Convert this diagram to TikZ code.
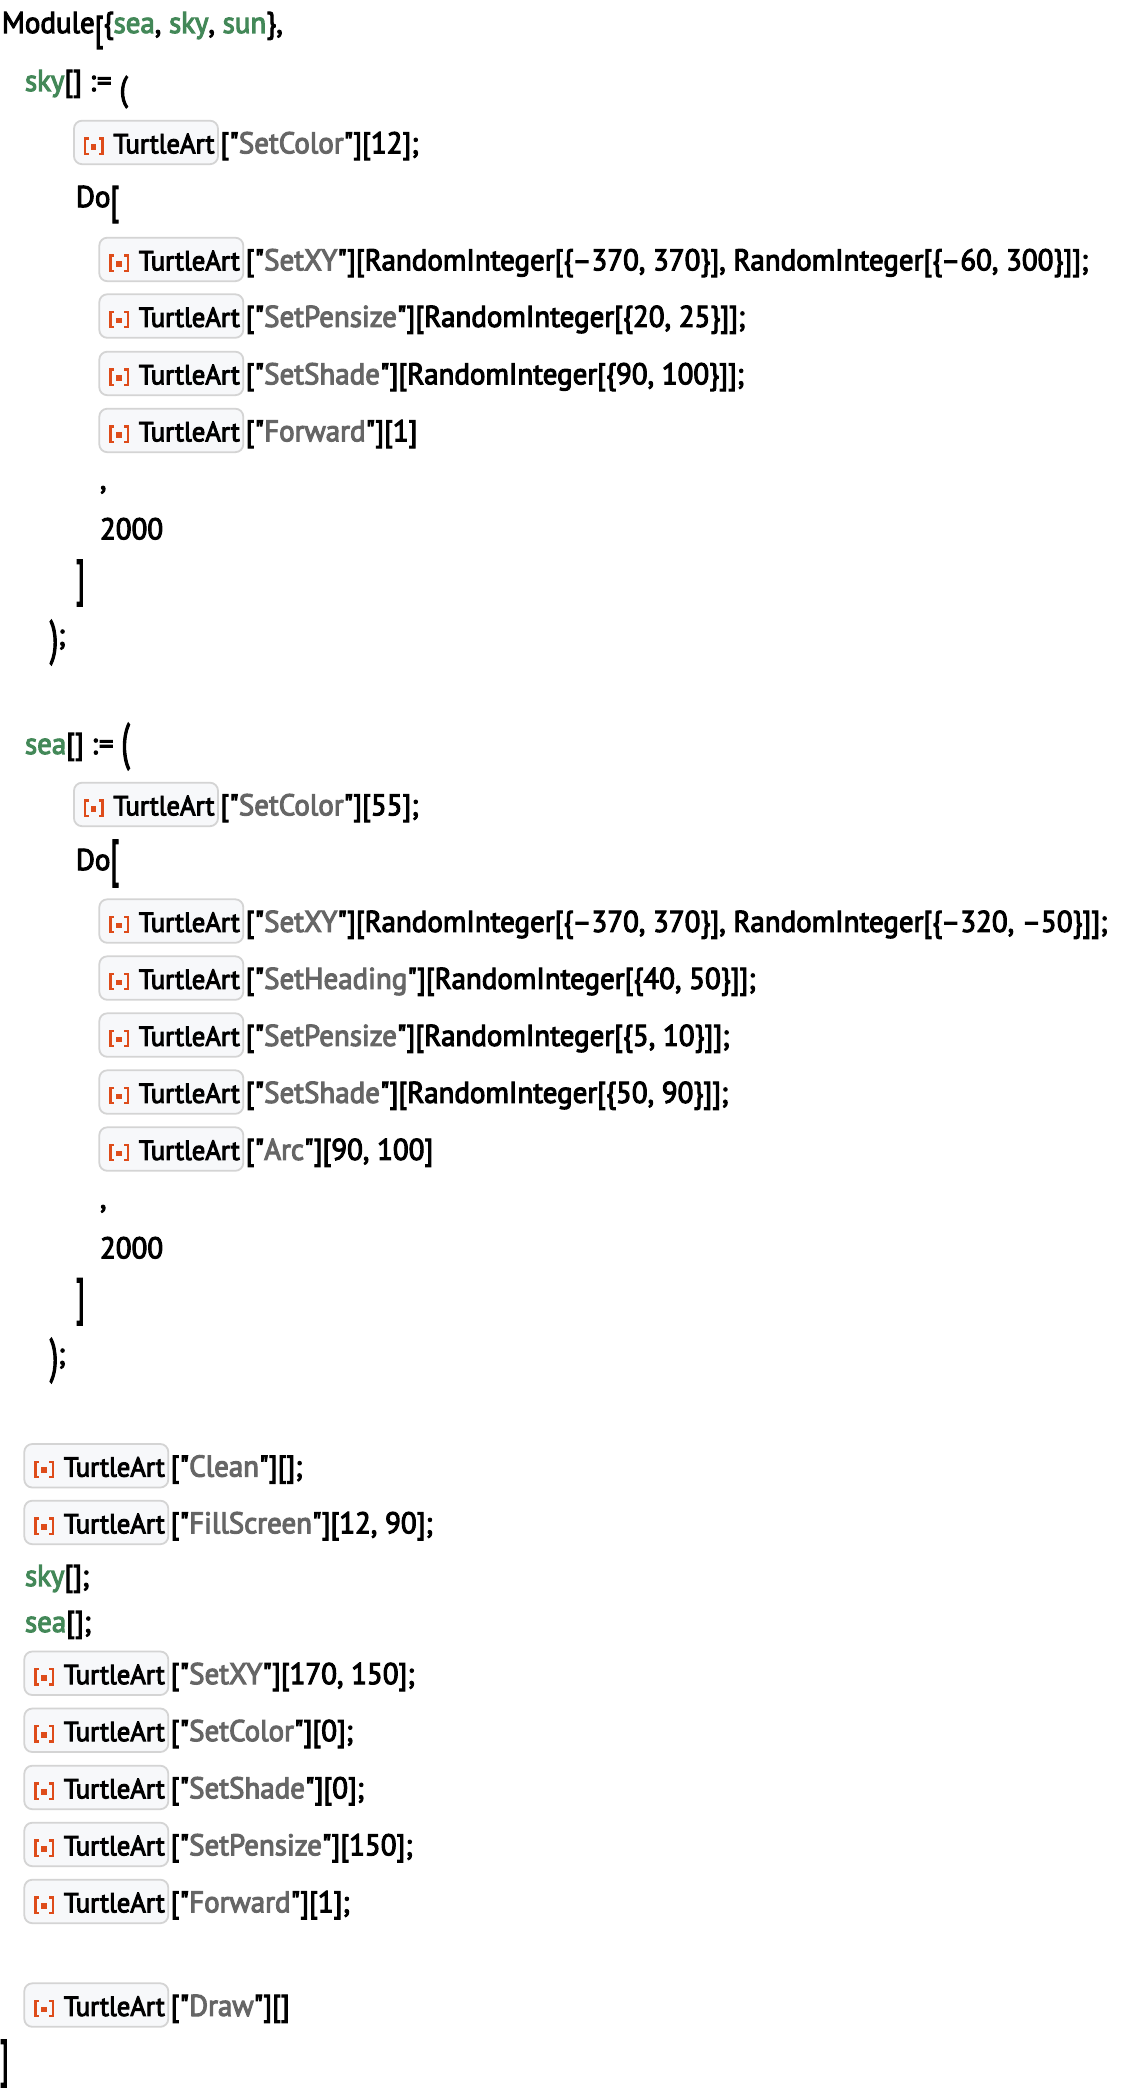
\documentclass[tikz,border=0pt]{standalone}
\usepackage{fontspec}
\usepackage{graphicx}
\newfontface\codefont{PT Sans}[FakeBold=3.5, FakeStretch=0.965]
\definecolor{vgreen}{HTML}{438858}
\definecolor{sgray}{HTML}{666666}
\definecolor{boxfill}{HTML}{F7F8FA}
\definecolor{boxline}{HTML}{D4D4D4}
\definecolor{iorange}{HTML}{DE4C1A}
\newcommand\cf{\codefont\fontsize{30}{30}\selectfont}
\newcommand\lf{\codefont\fontsize{27.6}{27.6}\selectfont}
\newcommand\V[1]{{\color{vgreen}#1}}
\newcommand\Str[1]{"{\color{sgray}#1}"}
\newcommand\Dl[2]{\resizebox*{\width}{#2pt}{#1}}
\tikzset{
 code/.style={inner sep=0pt, outer sep=0pt, font=\cf, text=black, anchor=base west},
 delim/.style={inner sep=0pt, outer sep=0pt, font=\cf, text=black, anchor=north west},
 lbl/.style={inner sep=0pt, outer sep=0pt, font=\lf, text=black, anchor=base west},
 tabox/.style={draw=boxline, fill=boxfill, line width=1.8pt, rounded corners=8pt, minimum width=144pt, minimum height=43.5pt, inner sep=0pt, outer sep=0pt, anchor=north west},
 icon/.style={draw=iorange, line width=2.3pt},
}
\newcommand\TA[4]{%
 \node[tabox] (#1) at (#2,#3) {};
 \node[lbl] (#1l) at ([shift={(39.5,32.6)}]#1.north west) {TurtleArt};
 \draw[icon] ([shift={(14.6,17.8)}]#1.north west) -- ++(-3.4,0) -- ++(0,15.2) -- ++(3.4,0);
 \fill[iorange] ([shift={(16.6,23.3)}]#1.north west) rectangle ++(5.8,5.8);
 \draw[icon] ([shift={(25.0,17.8)}]#1.north west) -- ++(3.4,0) -- ++(0,15.2) -- ++(-3.4,0);
 \node[code] (#1r) at ([shift={(146.4,32.6)}]#1.north west) {#4};
}
\begin{document}
\begin{tikzpicture}[x=1pt,y=-1pt]
\useasboundingbox (0,0) rectangle (1126,2090);
\fill[white] (0,0) rectangle (1126,2090);
% Module line
\node[code] (m1) at (2,33) {Module};
\coordinate (t1) at (0,16);
\node[delim] (m2) at (m1.east |- t1) {\Dl{[}{33}};
\node[code] (m3) at (m2.east |- m1.base) {\{\V{sea}, \V{sky}, \V{sun}\},};
% sky block
\node[code] (s1) at (25,91) {\V{sky}[] :\kern1pt=\kern8pt};
\coordinate (t2) at (0,76);
\node[delim] (s2) at (s1.east |- t2) {\Dl{(}{32}};
\TA{b1}{74}{120.7}{[\Str{SetColor}][12];}
\node[code] (d1) at (76,207) {Do};
\coordinate (t4) at (0,186);
\node[delim] (d2) at (d1.east |- t4) {\Dl{[}{37}};
\TA{b2}{99.3}{237.7}{[\Str{SetXY}][RandomInteger[\{–370, 370\}], RandomInteger[\{–60, 300\}]];}
\TA{b3}{99.3}{294.3}{[\Str{SetPensize}][RandomInteger[\{20, 25\}]];}
\TA{b4}{99.3}{351.7}{[\Str{SetShade}][RandomInteger[\{90, 100\}]];}
\TA{b5}{99.3}{408.7}{[\Str{Forward}][1]}
\node[code] (c1) at (100,489) {,};
\node[code] (n1) at (100,539.3) {2000};
\node[delim] (e1) at (76,560) {\Dl{]}{46}};
\node[delim] (p1) at (50,620) {\Dl{)}{45}};
\coordinate (q1) at (0,645);
\node[code] (p1s) at (p1.east |- q1) {;};
% sea block
\node[code] (s3) at (25,754) {\V{sea}[] :\kern1pt=\kern8pt};
\coordinate (t14) at (0,723);
\node[delim] (s4) at (s3.east |- t14) {\Dl{(}{47}};
\TA{b6}{74}{782.7}{[\Str{SetColor}][55];}
\node[code] (d3) at (76,870) {Do};
\coordinate (t16) at (0,840);
\node[delim] (d4) at (d3.east |- t16) {\Dl{[}{47}};
\TA{b7}{99.3}{899.3}{[\Str{SetXY}][RandomInteger[\{–370, 370\}], RandomInteger[\{–320, –50\}]];}
\TA{b8}{99.3}{956.3}{[\Str{SetHeading}][RandomInteger[\{40, 50\}]];}
\TA{b9}{99.3}{1013.3}{[\Str{SetPensize}][RandomInteger[\{5, 10\}]];}
\TA{b10}{99.3}{1070.3}{[\Str{SetShade}][RandomInteger[\{50, 90\}]];}
\TA{b11}{99.3}{1127.3}{[\Str{Arc}][90, 100]}
\node[code] (c2) at (100,1208) {,};
\node[code] (n2) at (100,1258.3) {2000};
\node[delim] (e2) at (76,1278.5) {\Dl{]}{46.5}};
\node[delim] (p2) at (50,1338) {\Dl{)}{45}};
\coordinate (q2) at (0,1364);
\node[code] (p2s) at (p2.east |- q2) {;};
% main calls
\TA{b12}{24.3}{1444}{[\Str{Clean}][];}
\TA{b13}{24.3}{1500.7}{[\Str{FillScreen}][12, 90];}
\node[code] (k1) at (25,1586) {\V{sky}[];};
\node[code] (k2) at (25,1632) {\V{sea}[];};
\TA{b14}{24.3}{1651.5}{[\Str{SetXY}][170, 150];}
\TA{b15}{24.3}{1708.5}{[\Str{SetColor}][0];}
\TA{b16}{24.3}{1765.7}{[\Str{SetShade}][0];}
\TA{b17}{24.3}{1822.7}{[\Str{SetPensize}][150];}
\TA{b18}{24.3}{1879.7}{[\Str{Forward}][1];}
\TA{b19}{24.3}{1983.3}{[\Str{Draw}][]}
\node[delim] (e3) at (0,2040) {\Dl{]}{47}};
\end{tikzpicture}
\end{document}
